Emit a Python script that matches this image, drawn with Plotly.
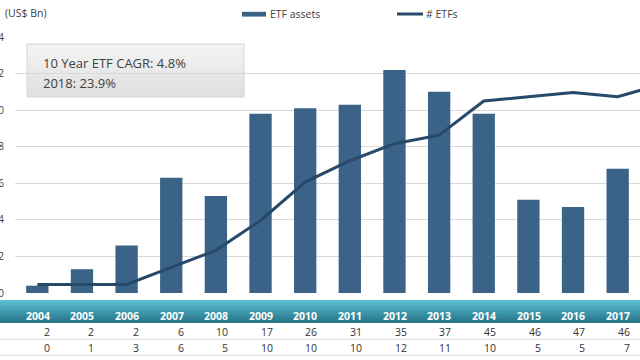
import plotly.graph_objects as go

# ---- data ----
years = ["2004", "2005", "2006", "2007", "2008", "2009", "2010", "2011",
         "2012", "2013", "2014", "2015", "2016", "2017", "2018"]
etf_assets = [0.4, 1.3, 2.6, 6.3, 5.3, 9.8, 10.1, 10.3, 12.2, 11.0, 9.8, 5.1, 4.7, 6.8, 8.4]
etf_count = [2, 2, 2, 6, 10, 17, 26, 31, 35, 37, 45, 46, 47, 46, 49]
assets_row = [0, 1, 3, 6, 5, 10, 10, 10, 12, 11, 10, 5, 5, 7, 8]
y_ticks = [0, 2, 4, 6, 8, 10, 12, 14]
box_lines = ["10 Year ETF CAGR: 4.8%", "2018: 23.9%"]

# ---- styling ----
FONT = "Open Sans"
BAR_COLOR = "#3a6387"
LINE_COLOR = "#274a6a"
TEXT_COLOR = "#404040"
W, H = 640, 360
ML, MR, MT, MB = 15, 0, 37, 67
PW, PH = W - ML - MR, H - MT - MB
X_RANGE = [-0.5, 13.5]


def px_x(px):
    return (px - ML) / PW


def px_y(py):
    return (H - MB - py) / PH


fig = go.Figure()
fig.add_trace(go.Bar(x=years, y=etf_assets, name="ETF assets",
                     marker=dict(color=BAR_COLOR, line=dict(width=0)),
                     showlegend=False))
fig.add_trace(go.Scatter(x=years, y=etf_count, name="# ETFs", yaxis="y2",
                         mode="lines", line=dict(color=LINE_COLOR, width=3),
                         showlegend=False))

shapes = []
annotations = []


def lerp(c1, c2, t):
    return "rgb(%d,%d,%d)" % tuple(round(a + (b - a) * t) for a, b in zip(c1, c2))


# text box (gradient, under gridlines)
bx0, bx1, by0, by1 = 27, 244, 44, 97
steps = 10
for k in range(steps):
    ya = by0 + (by1 - by0) * k / steps
    shapes.append(dict(type="rect", xref="paper", yref="paper", layer="below",
                       x0=px_x(bx0), x1=px_x(bx1), y0=px_y(ya), y1=px_y(by1),
                       fillcolor=lerp((243, 243, 243), (224, 224, 224), k / (steps - 1)),
                       line=dict(width=0)))
shapes.append(dict(type="rect", xref="paper", yref="paper", layer="below",
                   x0=px_x(bx0), x1=px_x(bx1), y0=px_y(by0), y1=px_y(by1),
                   fillcolor="rgba(0,0,0,0)", line=dict(color="#d6d6d6", width=1)))
for i, txt in enumerate(box_lines):
    annotations.append(dict(text=txt, xref="paper", yref="paper",
                            x=px_x(41), y=px_y(63 + 20 * i), xanchor="left", yanchor="middle",
                            showarrow=False, font=dict(family=FONT, size=13, color=TEXT_COLOR)))

# table header gradient band
hy0, hy1 = 300, 322.5
hsteps = 12
for k in range(hsteps):
    ya = hy0 + (hy1 - hy0) * k / hsteps
    shapes.append(dict(type="rect", xref="paper", yref="paper", layer="above",
                       x0=px_x(-2), x1=px_x(W + 2), y0=px_y(ya), y1=px_y(hy1),
                       fillcolor=lerp((90, 190, 211), (40, 118, 138), k / (hsteps - 1)),
                       line=dict(width=0)))
# table row lines
for ly in (339.3, 355.3):
    shapes.append(dict(type="line", xref="paper", yref="paper",
                       x0=px_x(0), x1=px_x(W), y0=px_y(ly), y1=px_y(ly),
                       line=dict(color="#d9d9d9", width=1)))

# table text
for i, yr in enumerate(years):
    xpos = i + 0.32
    if xpos > X_RANGE[1]:
        continue
    annotations.append(dict(text="<b>%s</b>" % yr, xref="x", yref="paper", x=xpos, y=px_y(316),
                            xanchor="right", yanchor="middle", showarrow=False,
                            font=dict(family=FONT, size=10.5, color="white")))
    annotations.append(dict(text=str(etf_count[i]), xref="x", yref="paper", x=xpos, y=px_y(331.7),
                            xanchor="right", yanchor="middle", showarrow=False,
                            font=dict(family=FONT, size=10.5, color="#333333")))
    annotations.append(dict(text=str(assets_row[i]), xref="x", yref="paper", x=xpos, y=px_y(347.7),
                            xanchor="right", yanchor="middle", showarrow=False,
                            font=dict(family=FONT, size=10.5, color="#333333")))

# custom legend
shapes.append(dict(type="rect", xref="paper", yref="paper",
                   x0=px_x(242), x1=px_x(266), y0=px_y(11.8), y1=px_y(16.6),
                   fillcolor=BAR_COLOR, line=dict(width=0)))
annotations.append(dict(text="ETF assets", xref="paper", yref="paper", x=px_x(267.5), y=px_y(14),
                        xanchor="left", yanchor="middle", showarrow=False,
                        font=dict(family=FONT, size=10.5, color=TEXT_COLOR)))
shapes.append(dict(type="line", xref="paper", yref="paper",
                   x0=px_x(397), x1=px_x(423), y0=px_y(14), y1=px_y(14),
                   line=dict(color=LINE_COLOR, width=3)))
annotations.append(dict(text="# ETFs", xref="paper", yref="paper", x=px_x(423.5), y=px_y(14),
                        xanchor="left", yanchor="middle", showarrow=False,
                        font=dict(family=FONT, size=10.5, color=TEXT_COLOR)))

# unit label
annotations.append(dict(text="(US$ Bn)", xref="paper", yref="paper", x=px_x(2.5), y=px_y(12.5),
                        xanchor="left", yanchor="middle", showarrow=False,
                        font=dict(family=FONT, size=10.5, color=TEXT_COLOR)))

fig.update_layout(
    width=W, height=H,
    margin=dict(l=ML, r=MR, t=MT, b=MB, pad=0),
    paper_bgcolor="white", plot_bgcolor="white",
    font=dict(family=FONT, color=TEXT_COLOR),
    bargap=0.5,
    showlegend=False,
    xaxis=dict(type="category", range=X_RANGE, showticklabels=False, showgrid=False,
               zeroline=False, showline=False, ticks="", automargin=False, fixedrange=True),
    yaxis=dict(range=[0, 14], tickvals=y_ticks, showgrid=True, gridcolor="#d9d9d9", gridwidth=1,
               zeroline=False, showline=False, ticks="outside", ticklen=8,
               tickcolor="rgba(0,0,0,0)", tickfont=dict(family=FONT, size=10, color=TEXT_COLOR),
               automargin=False, fixedrange=True),
    yaxis2=dict(range=[0, 60], overlaying="y", side="right", showgrid=False,
                showticklabels=False, zeroline=False, showline=False, ticks="",
                automargin=False, fixedrange=True),
    shapes=shapes,
    annotations=annotations,
)

fig.write_html("out.html", config=dict(displayModeBar=False),
               post_script="document.body.style.margin='0';document.body.style.overflow='hidden';")
